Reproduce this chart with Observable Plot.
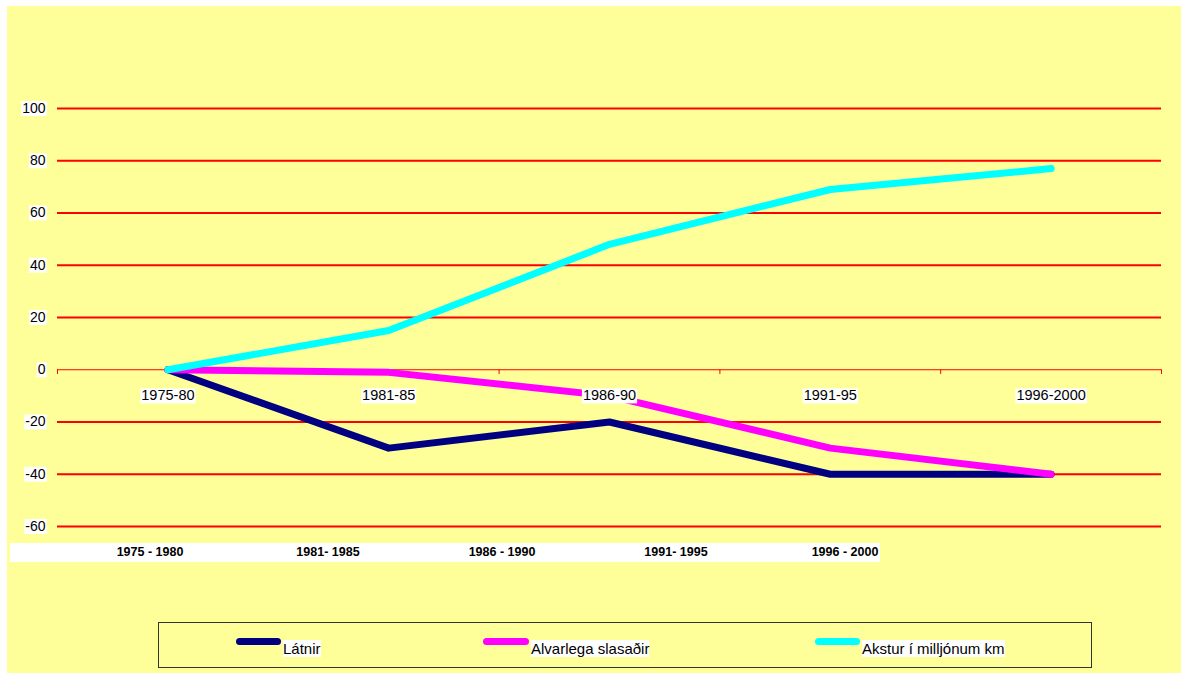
<!DOCTYPE html>
<html>
<head>
<meta charset="utf-8">
<script src="https://cdn.jsdelivr.net/npm/d3@7"></script>
<script src="https://cdn.jsdelivr.net/npm/@observablehq/plot@0.6"></script>
<style>
  html, body { margin: 0; padding: 0; background: #ffffff; }
  #wrap { position: relative; width: 1181px; height: 673px; overflow: hidden; font-family: "Liberation Sans", Arial, sans-serif; }
  #bg { position: absolute; left: 7px; top: 6px; width: 1174px; height: 667px; background: #FFFF99; }
  #chart { position: absolute; left: 0; top: 0; }
  #table { position: absolute; left: 10px; top: 543px; width: 870px; height: 19px; background: #ffffff; }
  #table span { position: absolute; top: 2px; font-size: 12.5px; font-weight: bold; color: #000; transform: translateX(-50%); white-space: nowrap; }
  #legend { position: absolute; left: 158px; top: 622px; width: 934px; height: 46px; border: 1px solid #333; box-sizing: border-box; }
  #legend .sw { position: absolute; top: 15px; height: 7px; border-radius: 4px; }
  #legend .lb { position: absolute; top: 17px; font-size: 15px; line-height: 17px; background: #fff; color: #000; white-space: nowrap; }
</style>
</head>
<body>
<div id="wrap">
  <div id="bg"></div>
  <div id="chart"></div>
  <div id="table"></div>
  <div id="legend"></div>
</div>
<script>
const periods = ["1975-80", "1981-85", "1986-90", "1991-95", "1996-2000"];
const latnir = [0, -30, -20, -40, -40];
const alvarlega = [0, -1, -10, -30, -40];
const akstur = [0, 15, 48, 69, 77];
const yTicks = [-60, -40, -20, 0, 20, 40, 60, 80, 100];
const tableLabels = ["1975 - 1980", "1981- 1985", "1986 - 1990", "1991- 1995", "1996 - 2000"];
const seriesNames = ["Látnir", "Alvarlega slasaðir", "Akstur í milljónum km"];
const seriesColors = ["#000080", "#FF00FF", "#00FFFF"];
const seriesValues = [latnir, alvarlega, akstur];

const boundaries = d3.range(periods.length + 1).map(i => i - 0.5);

const lineMarks = seriesValues.map((vals, s) =>
  Plot.line(vals.map((v, i) => ({i, v})), {
    x: "i", y: "v", stroke: seriesColors[s], strokeWidth: 7,
    strokeLinecap: "round", strokeLinejoin: "round"
  })
);

const plot = Plot.plot({
  width: 1181,
  height: 673,
  marginLeft: 57,
  marginRight: 20,
  marginTop: 108,
  marginBottom: 147,
  style: { background: "transparent", fontFamily: "'Liberation Sans', Arial, sans-serif", fontSize: "14px", color: "#000" },
  x: { type: "linear", domain: [-0.5, periods.length - 0.5], axis: null },
  y: { domain: [-60, 100], label: null },
  marks: [
    Plot.ruleY(yTicks.filter(d => d !== 0), { stroke: "#FF0000", strokeWidth: 2.2 }),
    Plot.ruleY([0], { stroke: "#FF0000", strokeWidth: 1 }),
    Plot.ruleX(boundaries, { x: d => d, y1: 0, y2: -1.8, stroke: "#FF0000", strokeWidth: 1 }),
    Plot.axisY({ ticks: yTicks, label: null, tickSize: 0, tickPadding: 12, tickFormat: d => String(d), fontSize: 14, fill: "#000" }),
    ...lineMarks,
    Plot.text(periods, { x: (d, i) => i, y: 0, text: d => d, dy: 26, fontSize: 14.5, fill: "#000" })
  ]
});

document.getElementById("chart").appendChild(plot);

// white boxes behind axis labels and category labels
plot.querySelectorAll("text").forEach(t => {
  const b = t.getBBox();
  if (!b.width) return;
  const r = document.createElementNS("http://www.w3.org/2000/svg", "rect");
  r.setAttribute("x", b.x - 1);
  r.setAttribute("y", b.y + 1);
  r.setAttribute("width", b.width + 2);
  r.setAttribute("height", b.height - 1);
  r.setAttribute("fill", "#ffffff");
  if (t.getAttribute("transform")) r.setAttribute("transform", t.getAttribute("transform"));
  t.parentNode.insertBefore(r, t);
});

// data-table row
const tableCenters = [140, 318, 492, 666, 835];
const table = document.getElementById("table");
tableLabels.forEach((lab, i) => {
  const s = document.createElement("span");
  s.textContent = lab;
  s.style.left = tableCenters[i] + "px";
  table.appendChild(s);
});

// legend
const legend = document.getElementById("legend");
const swLeft = [77, 324, 656];
const swWidth = [45, 46, 45];
seriesNames.forEach((name, i) => {
  const sw = document.createElement("div");
  sw.className = "sw";
  sw.style.left = swLeft[i] + "px";
  sw.style.width = swWidth[i] + "px";
  sw.style.background = seriesColors[i];
  legend.appendChild(sw);
  const lb = document.createElement("div");
  lb.className = "lb";
  lb.textContent = name;
  lb.style.left = (swLeft[i] + swWidth[i] + 2) + "px";
  legend.appendChild(lb);
});
</script>
</body>
</html>
